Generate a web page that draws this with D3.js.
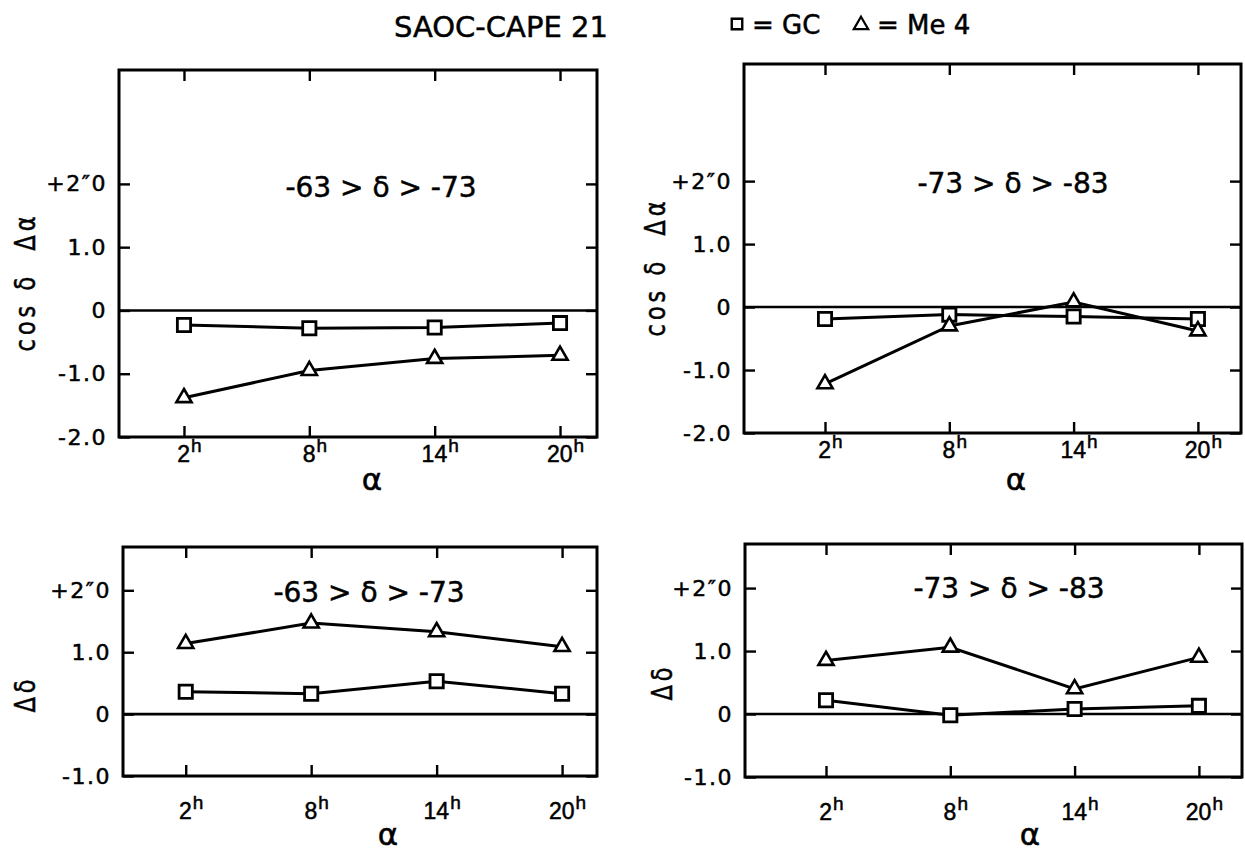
<!DOCTYPE html>
<html><head><meta charset="utf-8">
<script src="https://cdn.jsdelivr.net/npm/d3@7"></script>
<style>
body{margin:0;background:#fff;}
svg{display:block;font-family:"DejaVu Sans",sans-serif;}
text{stroke:#000;stroke-width:0.5px;fill:#000;}
</style></head><body>
<svg id="chart" width="1245" height="859"></svg>
<script>
// ---------- data ----------
const hours = [2, 8, 14, 20];
const hourLabels = ["2", "8", "14", "20"];
const raTickValues = [-2, -1, 0, 1, 2];
const raTickLabels = ["-2.0", "-1.0", "0", "1.0", "+2\u20330"];
const decTickValues = [-1, 0, 1, 2];
const decTickLabels = ["-1.0", "0", "1.0", "+2\u20330"];
// cos δ Δα, zone -63 > δ > -73
const gcRaNorth  = [-0.23, -0.28, -0.27, -0.20];
const me4RaNorth = [-1.38, -0.95, -0.76, -0.71];
// cos δ Δα, zone -73 > δ > -83
const gcRaSouth  = [-0.19, -0.12, -0.15, -0.19];
const me4RaSouth = [-1.22, -0.30, 0.08, -0.38];
// Δδ, zone -63 > δ > -73
const gcDecNorth  = [0.36, 0.33, 0.53, 0.33];
const me4DecNorth = [1.14, 1.47, 1.33, 1.09];
// Δδ, zone -73 > δ > -83
const gcDecSouth  = [0.22, -0.02, 0.08, 0.13];
const me4DecSouth = [0.85, 1.06, 0.40, 0.90];
const zoneLabels = ["-63 > \u03b4 > -73", "-73 > \u03b4 > -83"];
const yTitles = ["cos \u03b4  \u0394\u03b1", "\u0394\u03b4"];
const xTitle = "\u03b1";
const chartTitle = "SAOC-CAPE 21";
const legendLabels = ["= GC", "= Me 4"];

// ---------- layout ----------
const svg = d3.select("#chart");
const panels = [
  {gc: gcRaNorth, me: me4RaNorth, zone: zoneLabels[0], tv: raTickValues, tl: raTickLabels, yTitle: yTitles[0],
   box: [119, 70, 597, 437], xDom: [-1.11, 21.77], yDom: [-2, 3.8],
   titlePos: [25, 282], zonePos: [381, 197], alphaPos: [372, 490], xPad: 9},
  {gc: gcRaSouth, me: me4RaSouth, zone: zoneLabels[1], tv: raTickValues, tl: raTickLabels, yTitle: yTitles[0],
   box: [744, 64, 1241, 433], xDom: [-1.91, 22.08], yDom: [-2, 3.86],
   titlePos: [655, 267], zonePos: [1013, 193], alphaPos: [1016, 490], xPad: 9},
  {gc: gcDecNorth, me: me4DecNorth, zone: zoneLabels[0], tv: decTickValues, tl: decTickLabels, yTitle: yTitles[1],
   box: [123, 547, 597, 776], xDom: [-1.0, 21.67], yDom: [-1, 2.7],
   titlePos: [25, 694], zonePos: [369, 602], alphaPos: [388, 845], xPad: 27},
  {gc: gcDecSouth, me: me4DecSouth, zone: zoneLabels[1], tv: decTickValues, tl: decTickLabels, yTitle: yTitles[1],
   box: [745, 544, 1242, 777], xDom: [-1.91, 22.08], yDom: [-1, 2.7],
   titlePos: [662, 682], zonePos: [1009, 598], alphaPos: [1030, 845], xPad: 27}
];

const sqSym = d3.symbol().type(d3.symbolSquare).size(175);
const triSym = d3.symbol().type(d3.symbolTriangle).size(100);

function styleAxis(sel, fontSize) {
  sel.select(".domain").remove();
  sel.selectAll(".tick line").attr("stroke", "#000").attr("stroke-width", 2.4);
  sel.attr("font-family", null).attr("font-size", fontSize);
  sel.selectAll(".tick text").attr("fill", "#000");
}

panels.forEach(p => {
  const [x0, y0, x1, y1] = p.box;
  const x = d3.scaleLinear().domain(p.xDom).range([x0, x1]);
  const y = d3.scaleLinear().domain(p.yDom).range([y1, y0]);
  const g = svg.append("g");

  const fmt = v => p.tl[p.tv.indexOf(v)];
  const la = g.append("g").attr("transform", `translate(${x0},0)`)
    .call(d3.axisLeft(y).tickValues(p.tv).tickSizeInner(-11).tickSizeOuter(0).tickPadding(12).tickFormat(fmt));
  styleAxis(la, 22);
  la.selectAll(".tick text").attr("letter-spacing", 1.5);

  const ra = g.append("g").attr("transform", `translate(${x1},0)`)
    .call(d3.axisRight(y).tickValues(p.tv).tickSizeInner(-11).tickSizeOuter(0).tickFormat(""));
  styleAxis(ra, 22);

  const ta = g.append("g").attr("transform", `translate(0,${y0})`)
    .call(d3.axisTop(x).tickValues(hours).tickSizeInner(-11).tickSizeOuter(0).tickFormat(""));
  styleAxis(ta, 22);

  const ba = g.append("g").attr("transform", `translate(0,${y1})`)
    .call(d3.axisBottom(x).tickValues(hours).tickSizeInner(-11).tickSizeOuter(0).tickPadding(p.xPad)
      .tickFormat((d, i) => hourLabels[i]));
  styleAxis(ba, 23);
  ba.selectAll(".tick text").attr("font-family", "Liberation Sans").attr("dx", 5)
    .append("tspan").attr("font-size", 19).attr("dy", "-0.55em").attr("dx", 1).text("h");

  // frame
  g.append("rect").attr("x", x0).attr("y", y0).attr("width", x1 - x0).attr("height", y1 - y0)
    .attr("fill", "none").attr("stroke", "#000").attr("stroke-width", 3);
  // zero line
  g.append("line").attr("x1", x0).attr("x2", x1).attr("y1", y(0)).attr("y2", y(0))
    .attr("stroke", "#000").attr("stroke-width", 2.6);

  const line = d3.line().x((d, i) => x(hours[i])).y(d => y(d));
  [p.gc, p.me].forEach(s => {
    g.append("path").attr("d", line(s)).attr("fill", "none").attr("stroke", "#000").attr("stroke-width", 3);
  });
  g.selectAll(".sq").data(p.gc).join("path").attr("class", "sq")
    .attr("transform", (d, i) => `translate(${x(hours[i])},${y(d)})`)
    .attr("d", sqSym).attr("fill", "#fff").attr("stroke", "#000").attr("stroke-width", 2.8);
  g.selectAll(".tri").data(p.me).join("path").attr("class", "tri")
    .attr("transform", (d, i) => `translate(${x(hours[i])},${y(d)})`)
    .attr("d", triSym).attr("fill", "#fff").attr("stroke", "#000").attr("stroke-width", 2.6);

  // zone annotation
  g.append("text").attr("x", p.zonePos[0]).attr("y", p.zonePos[1]).attr("text-anchor", "middle")
    .attr("font-size", 28).text(p.zone);
  // y title
  g.append("text").attr("transform", `translate(${p.titlePos[0]},${p.titlePos[1]}) rotate(-90) scale(0.8,1)`)
    .attr("text-anchor", "middle").attr("dominant-baseline", "central")
    .attr("font-size", 28).attr("letter-spacing", 5).style("white-space", "pre").text(p.yTitle);
  // x title
  g.append("text").attr("x", p.alphaPos[0]).attr("y", p.alphaPos[1]).attr("text-anchor", "middle")
    .attr("font-size", 31).text(xTitle);
});

// title and legend
svg.append("text").attr("x", 394).attr("y", 37).attr("font-size", 29).text(chartTitle);
svg.append("path").attr("transform", "translate(737,24)").attr("d", d3.symbol().type(d3.symbolSquare).size(110)())
  .attr("fill", "#fff").attr("stroke", "#000").attr("stroke-width", 2.4);
svg.append("text").attr("x", 752).attr("y", 34).attr("font-size", 26).style("white-space", "pre").text(legendLabels[0]);
svg.append("path").attr("transform", "translate(861,25)").attr("d", d3.symbol().type(d3.symbolTriangle).size(90)())
  .attr("fill", "#fff").attr("stroke", "#000").attr("stroke-width", 2.2);
svg.append("text").attr("x", 877).attr("y", 34).attr("font-size", 26).style("white-space", "pre").text(legendLabels[1]);
</script>
</body></html>
